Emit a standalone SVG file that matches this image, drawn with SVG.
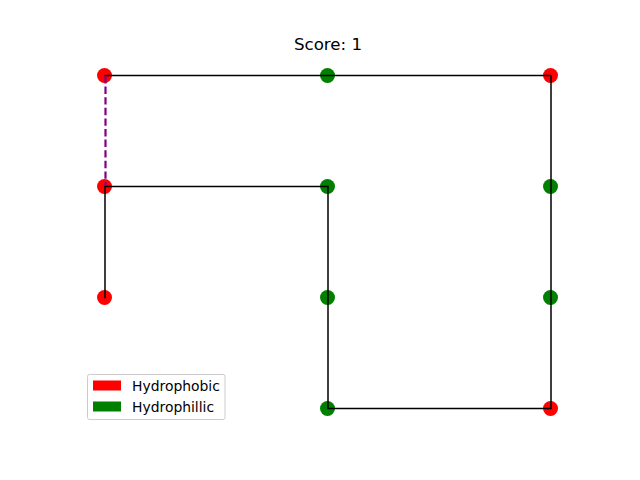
<svg xmlns="http://www.w3.org/2000/svg" width="640" height="480" viewBox="0 0 640 480">
<style>
.h{fill:#ff0000}
.p{fill:#008000}
.bond{fill:none;stroke:#000;stroke-width:1.5;stroke-linejoin:miter;stroke-linecap:square}
.contact{fill:none;stroke:#800080;stroke-width:2.2;stroke-dasharray:7.4 3.2}
text{font-family:"DejaVu Sans",sans-serif;fill:#000}
</style>
<rect width="640" height="480" fill="#fff"/>
<text x="328" y="49.5" font-size="16.67" text-anchor="middle">Score: 1</text>
<g id="nodes">
<g id="n0"><circle class="h" cx="104.5" cy="297.5" r="7.5"/></g>
<g id="n1"><circle class="h" cx="104.5" cy="186.5" r="7.5"/></g>
<g id="n2"><circle class="p" cx="327.5" cy="186.5" r="7.5"/></g>
<g id="n3"><circle class="p" cx="327.5" cy="297.5" r="7.5"/></g>
<g id="n4"><circle class="p" cx="327.5" cy="408.5" r="7.5"/></g>
<g id="n5"><circle class="h" cx="550.5" cy="408.5" r="7.5"/></g>
<g id="n6"><circle class="p" cx="550.5" cy="297.5" r="7.5"/></g>
<g id="n7"><circle class="p" cx="550.5" cy="186.5" r="7.5"/></g>
<g id="n8"><circle class="h" cx="550.5" cy="75.5" r="7.5"/></g>
<g id="n9"><circle class="p" cx="327.5" cy="75.5" r="7.5"/></g>
<g id="n10"><circle class="h" cx="104.5" cy="75.5" r="7.5"/></g>
</g>
<g id="connectors">
<polyline class="bond" points="105,297.5 105,186.5 328,186.5 328,408.5 551,408.5 551,75.5 105,75.5"/>
<line class="contact" x1="105.5" y1="76" x2="105.5" y2="186"/>
</g>
<g id="legend">
<rect x="87.5" y="374.5" width="137.5" height="45" rx="2" fill="#fff" fill-opacity="0.8" stroke="#cccccc" stroke-width="1"/>
<rect x="93" y="380.5" width="28" height="10" fill="#ff0000"/>
<rect x="93" y="401.5" width="28" height="10" fill="#008000"/>
<text x="132" y="390.5" font-size="13.9">Hydrophobic</text>
<text x="132" y="411.5" font-size="13.9">Hydrophillic</text>
</g>
</svg>
